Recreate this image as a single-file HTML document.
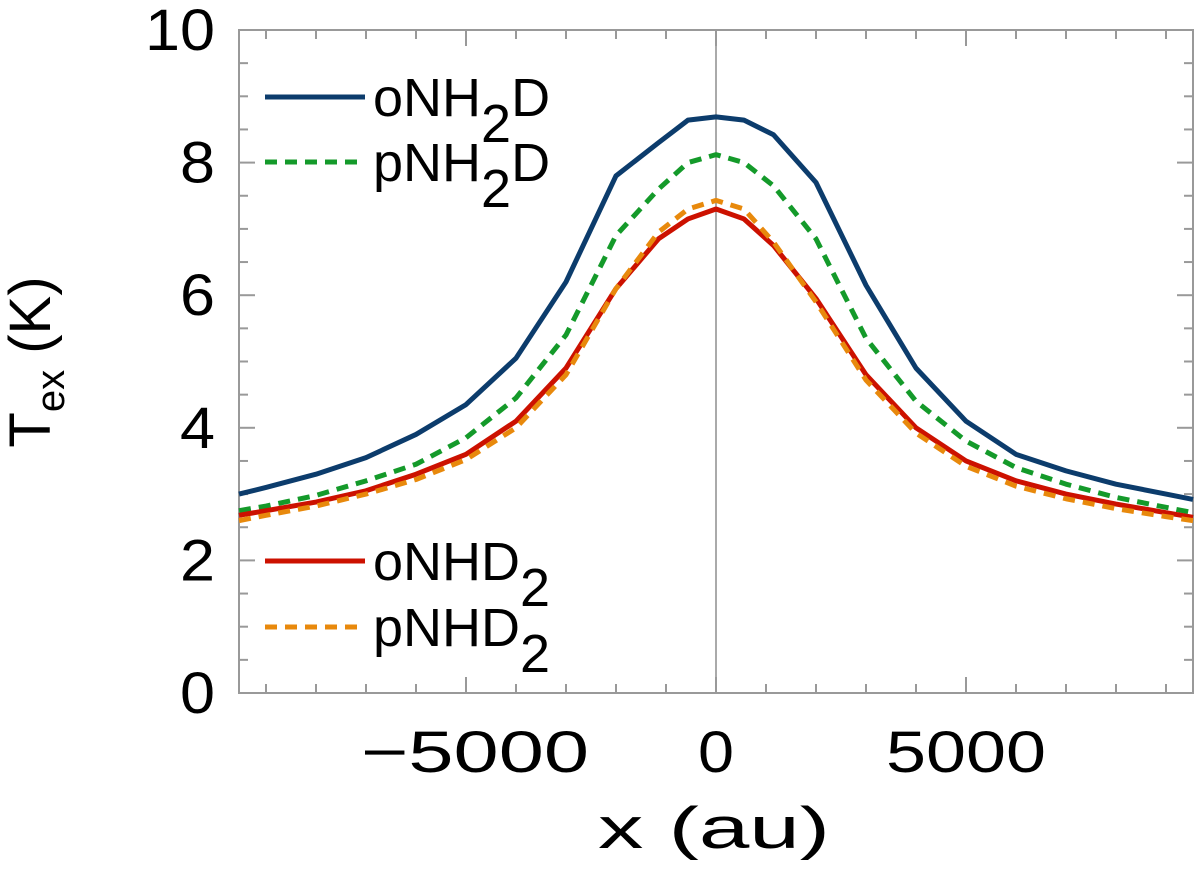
<!DOCTYPE html>
<html><head><meta charset="utf-8"><style>
body{margin:0;background:#fff}
svg text{font-family:"Liberation Sans",sans-serif;fill:#000}
</style></head><body>
<svg id="chart" width="1200" height="873" viewBox="0 0 1200 873">
<g id="axes"></g><g id="series"></g><g id="legend"></g>
</svg>
<script>
const xs=[-9540,-9000,-8000,-7000,-6000,-5000,-4000,-3000,-2000,-1150,-560,0,560,1150,2000,3000,4000,5000,6000,7000,8000,9000,9540];
const oNH2D=[3.0,3.1,3.3,3.55,3.9,4.35,5.05,6.2,7.8,8.3,8.64,8.69,8.64,8.42,7.7,6.15,4.9,4.1,3.6,3.35,3.15,3.0,2.92];
const pNH2D=[2.75,2.82,2.98,3.2,3.45,3.85,4.45,5.4,6.9,7.6,8.0,8.12,8.0,7.65,6.85,5.35,4.4,3.8,3.4,3.15,2.95,2.8,2.72];
const oNHD2=[2.68,2.75,2.88,3.05,3.3,3.6,4.1,4.9,6.1,6.85,7.15,7.3,7.15,6.75,5.95,4.8,4.0,3.5,3.2,3.0,2.85,2.72,2.65];
const pNHD2=[2.6,2.68,2.82,3.0,3.22,3.52,4.0,4.8,6.1,6.95,7.3,7.43,7.3,6.8,5.9,4.72,3.92,3.42,3.12,2.93,2.78,2.66,2.6];
const xTickLabels=[-5000,0,5000];
const yTickLabels=[0,2,4,6,8,10];
const NS="http://www.w3.org/2000/svg";
const L=239,R=1193,T=30,B=693,XMIN=-9540,XMAX=9540;
const sx=v=>L+(v-XMIN)/(XMAX-XMIN)*(R-L);
const sy=v=>B-v/10*(B-T);
function mk(tag,attrs,parent){const e=document.createElementNS(NS,tag);for(const k in attrs)e.setAttribute(k,attrs[k]);parent.appendChild(e);return e;}
const axes=document.getElementById('axes');
let fr=mk('rect',{x:L,y:T,width:R-L,height:B-T,fill:'none',stroke:'#999','stroke-width':2},axes);


let zl=mk('line',{x1:sx(0),x2:sx(0),y1:T,y2:B,stroke:'#555','stroke-width':1},axes);


for(let v=-9000;v<=9000;v+=1000){const x=sx(v),len=v%5000===0?16:9;
 mk('line',{x1:x,x2:x,y1:B,y2:B-len,stroke:'#999','stroke-width':2},axes);
 mk('line',{x1:x,x2:x,y1:T,y2:T+len,stroke:'#999','stroke-width':2},axes);}
for(let v=0;v<=10;v+=0.5){const y=sy(v),len=(v%2===0)?16:9;
 mk('line',{x1:L,x2:L+len,y1:y,y2:y,stroke:'#999','stroke-width':2},axes);
 mk('line',{x1:R,x2:R-len,y1:y,y2:y,stroke:'#999','stroke-width':2},axes);}
xTickLabels.forEach(v=>{const s=v<0?'\u2212'+Math.abs(v):String(v);
 const w=v<0?228:(v===0?36:160);
 const cx=v<0?sx(v)+9:sx(v);
 const t=mk('text',{x:cx-w/2,y:772,'font-size':58,textLength:w,lengthAdjust:'spacingAndGlyphs'},axes);t.textContent=s;
 
 });
yTickLabels.forEach(v=>{const w=v>=10?70:35;
 const t=mk('text',{x:215-w,y:sy(v)+20,'font-size':58,textLength:w,lengthAdjust:'spacingAndGlyphs'},axes);t.textContent=v;
 
 });
let xt=mk('text',{x:598,y:848,'font-size':58,textLength:232,lengthAdjust:'spacingAndGlyphs'},axes);xt.textContent='x (au)';


let yt=mk('text',{transform:'translate(50,362) rotate(-90)','font-size':58,'text-anchor':'middle'},axes);
yt.innerHTML='T<tspan font-size="40" dy="14">ex</tspan><tspan dy="-14">  (K)</tspan>';


const ser=document.getElementById('series');
const specs=[[oNH2D,'#0c3c6c',null,'line-onh2d'],[pNH2D,'#149a2a','12 8','line-pnh2d'],[oNHD2,'#cc1100',null,'line-onhd2'],[pNHD2,'#e8890c','12 8','line-pnhd2']];
specs.forEach(([d,c,dash,name])=>{const pts=xs.map((x,i)=>sx(x)+','+sy(d[i])).join(' ');
 const p=mk('polyline',{points:pts,fill:'none',stroke:c,'stroke-width':5,'stroke-linejoin':'round'},ser);
 if(dash)p.setAttribute('stroke-dasharray',dash);
 
 });
const leg=document.getElementById('legend');
const items=[[97,'#0c3c6c',null,'oNH','D','legend-onh2d'],[162,'#149a2a','12 8','pNH','D','legend-pnh2d'],[561,'#cc1100',null,'oNHD','','legend-onhd2'],[627,'#e8890c','12 8','pNHD','','legend-pnhd2']];
items.forEach(([y,c,dash,a,b,name])=>{const g=mk('g',{},leg);
 
 
 const l=mk('line',{x1:265,x2:365,y1:y,y2:y,stroke:c,'stroke-width':5},g);if(dash)l.setAttribute('stroke-dasharray',dash);
 const t=mk('text',{x:373,y:y+19,'font-size':54},g);
 t.innerHTML=a+'<tspan dy="26">2</tspan>'+(b?'<tspan dy="-26">'+b+'</tspan>':'');});
</script>
</body></html>
